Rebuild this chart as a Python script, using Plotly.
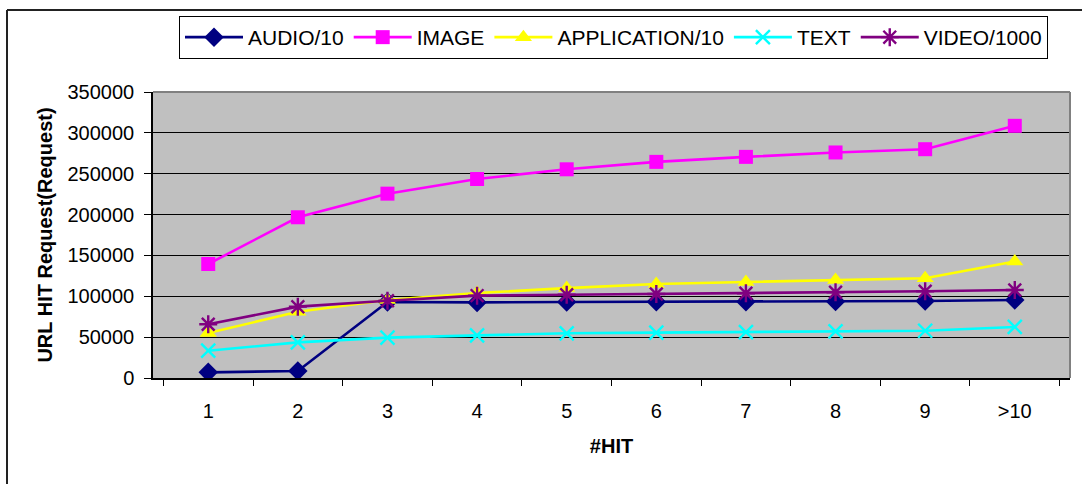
import plotly.graph_objects as go

# Hit-count buckets on the x axis
hits = ["1", "2", "3", "4", "5", "6", "7", "8", "9", ">10"]

# URL HIT requests per content type (scaled as labelled)
audio_div10 = [6900, 8600, 93000, 92500, 93000, 93300, 93400, 93500, 94300, 95500]
image = [139500, 196700, 225600, 243500, 255400, 264500, 270600, 276000, 280000, 308600]
application_div10 = [55000, 81000, 95500, 104000, 110000, 115000, 117500, 120000, 122000, 142500]
text = [33400, 43600, 49400, 52200, 54700, 55500, 56200, 57000, 57800, 62500]
video_div1000 = [65700, 87300, 94600, 100800, 101800, 102800, 103800, 104900, 106100, 107700]

y_ticks = [0, 50000, 100000, 150000, 200000, 250000, 300000, 350000]

FONT = "Arial, Liberation Sans, sans-serif"

series = [
    ("AUDIO/10", audio_div10, "#000080", "diamond", 15),
    ("IMAGE", image, "#FF00FF", "square", 14),
    ("APPLICATION/10", application_div10, "#FFFF00", "triangle-up", 15),
    ("TEXT", text, "#00FFFF", "x-thin", 14),
    ("VIDEO/1000", video_div1000, "#800080", "asterisk", 15),
]

fig = go.Figure()
for name, vals, color, symbol, size in series:
    open_symbol = symbol in ("x-thin", "asterisk")
    fig.add_trace(go.Scatter(
        x=hits, y=vals, name=name, mode="lines+markers",
        line=dict(color=color, width=2.6),
        marker=dict(symbol=symbol, size=size, color=color,
                    line=dict(color=color, width=2.4 if open_symbol else 0)),
    ))

# plot-area geometry in pixels (for placing the frame around the chart)
L, R, T, B = 153, 12, 92, 106
W, H = 1082 - L - R, 484 - T - B

def px_x(x):
    return (x - L) / W

def px_y(y):
    return (484 - B - y) / H

shapes = [
    # outer chart frame (left and top edges are inside the view)
    dict(type="line", xref="paper", yref="paper", x0=px_x(7), x1=px_x(1090),
         y0=px_y(10), y1=px_y(10), line=dict(color="#222222", width=2)),
    dict(type="line", xref="paper", yref="paper", x0=px_x(7), x1=px_x(7),
         y0=px_y(10), y1=px_y(500), line=dict(color="#222222", width=2)),
    # grey plot-area border on top and right
    dict(type="line", xref="paper", yref="paper", x0=0, x1=1, y0=1, y1=1,
         line=dict(color="#808080", width=2)),
    dict(type="line", xref="paper", yref="paper", x0=1, x1=1, y0=0, y1=1,
         line=dict(color="#808080", width=2)),
]

fig.update_layout(
    width=1082, height=484,
    margin=dict(l=L, r=R, t=T, b=B),
    paper_bgcolor="white",
    plot_bgcolor="#C0C0C0",
    font=dict(family=FONT, size=20, color="black"),
    showlegend=True,
    legend=dict(
        orientation="h", xref="paper", yref="paper",
        x=px_x(179), y=px_y(16), xanchor="left", yanchor="top",
        bordercolor="black", borderwidth=1, bgcolor="white",
        font=dict(family=FONT, size=21, color="black"),
        itemwidth=58, tracegroupgap=0,
    ),
    xaxis=dict(
        type="category", showline=True, linecolor="black", linewidth=1.5,
        ticks="outside", tickson="boundaries", ticklen=6, tickcolor="black",
        showgrid=False, ticklabelstandoff=14,
        title=dict(text="<b>#HIT</b>", font=dict(size=20), standoff=18),
    ),
    yaxis=dict(
        range=[0, 350000], tickvals=y_ticks, tickformat="d",
        showline=True, linecolor="black", linewidth=1.5,
        ticks="outside", ticklen=7, tickcolor="black",
        showgrid=True, gridcolor="black", gridwidth=1,
        zeroline=False, ticklabelstandoff=6,
        title=dict(text="<b>URL HIT Request(Request)</b>", font=dict(size=20), standoff=10),
    ),
    shapes=shapes,
)

fig.write_html("out.html")
